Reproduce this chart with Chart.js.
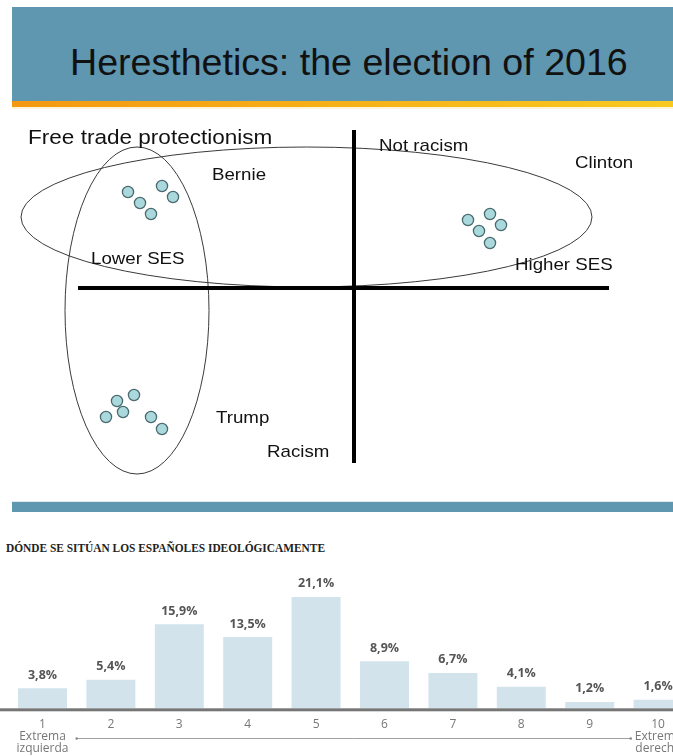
<!DOCTYPE html>
<html>
<head>
<meta charset="utf-8">
<script src="https://cdn.jsdelivr.net/npm/chart.js@4/dist/chart.umd.min.js"></script>
<style>
  html, body { margin: 0; padding: 0; width: 673px; height: 756px; overflow: hidden; background: #fff; }
  .abs { position: absolute; }
  #band { left: 12px; top: 7px; width: 661px; height: 95px; background: #5f96b0; }
  #stripe { left: 12px; top: 101px; width: 661px; height: 6px;
            background: linear-gradient(to right, #f49811, #f6b319 55%, #f8c91f); }
  #stripeGlow { left: 12px; top: 107px; width: 661px; height: 2px; background: #fdf4da; }
  #title { left: 70px; top: 43px; font-family: "Liberation Sans", Arial, sans-serif; font-size: 37.6px;
           line-height: 38px; color: #111; white-space: nowrap; }
  #sepLine { left: 12px; top: 501px; width: 661px; height: 1px; background: #dfe9ee; }
  #sep { left: 12px; top: 502px; width: 661px; height: 10px; background: #5f96b0; }
  #barTitle { left: 6px; top: 542px; font-family: "Liberation Serif", "Times New Roman", serif; font-weight: bold;
              font-size: 12.5px; line-height: 13px; color: #222; white-space: nowrap; transform-origin: 0 0; }
  #diagram { left: 0; top: 106px; }
  #bars { left: 0; top: 560px; }
</style>
</head>
<body>
<div id="band" class="abs"></div>
<div id="title" class="abs">Heresthetics: the election of 2016</div>
<div id="stripe" class="abs"></div>
<div id="stripeGlow" class="abs"></div>
<canvas id="diagram" class="abs" width="673" height="396"></canvas>
<div id="sepLine" class="abs"></div>
<div id="sep" class="abs"></div>
<div id="barTitle" class="abs">DÓNDE SE SITÚAN LOS ESPAÑOLES IDEOLÓGICAMENTE</div>
<canvas id="bars" class="abs" width="693" height="196"></canvas>

<script>
// ---------- Issue space (axes cross at the origin) ----------
const berniePoints  = [{x:-22.6,y:9.6},{x:-19.2,y:10.2},{x:-18.1,y:9.1},{x:-21.4,y:8.5},{x:-20.3,y:7.4}];
const clintonPoints = [{x:11.4,y:6.8},{x:13.6,y:7.4},{x:14.7,y:6.3},{x:12.5,y:5.7},{x:13.6,y:4.5}];
const trumpPoints   = [{x:-22.0,y:-10.7},{x:-23.7,y:-11.3},{x:-23.1,y:-12.4},{x:-24.8,y:-12.9},{x:-20.3,y:-12.9},{x:-19.2,y:-14.1}];
const sesAxis       = [{x:-27.6,y:0},{x:25.5,y:0}];
const racismAxis    = [{x:0,y:15.8},{x:0,y:-17.5}];
// coalitions: centre and half-widths
const coalitions = [
  {cx:-4.75, cy:7.1,   rx:28.55, ry:7.0},
  {cx:-21.7, cy:-2.25, rx:7.2,   ry:16.35}
];
const annotationText = ['Free trade protectionism','Bernie','Lower SES','Not racism','Clinton','Higher SES','Trump','Racism'];
const annotationAt   = [{x:-32.6,y:14.4},{x:-14.2,y:10.8},{x:-26.3,y:2.4},{x:2.5,y:13.7},{x:22.1,y:12.0},{x:16.1,y:1.8},{x:-13.8,y:-13.5},{x:-8.7,y:-16.9}];
const annotationSize = [20.5,17,17,17,17,17,17,17];

// ---------- Ideological self-placement ----------
const scalePoints = ['1','2','3','4','5','6','7','8','9','10'];
const shares      = [3.8, 5.4, 15.9, 13.5, 21.1, 8.9, 6.7, 4.1, 1.2, 1.6];
const scaleEnds   = {0:['Extrema','izquierda'], 9:['Extrema','derecha']};

const dotStyle = { backgroundColor:'#a9d9dc', borderColor:'#4b6a70', borderWidth:1.3, pointRadius:5.6, showLine:false };
const axisStyle = { type:'line', borderColor:'#000', borderWidth:4, pointRadius:0, showLine:true, fill:false, borderCapStyle:'butt' };

const coalitionPlugin = {
  id:'coalitions',
  beforeDatasetsDraw(chart){
    const {ctx, scales:{x, y}} = chart;
    const px = Math.abs(x.getPixelForValue(1) - x.getPixelForValue(0));
    const py = Math.abs(y.getPixelForValue(1) - y.getPixelForValue(0));
    ctx.save();
    ctx.strokeStyle = '#3a3a3a';
    ctx.lineWidth = 1;
    coalitions.forEach(c => {
      ctx.beginPath();
      ctx.ellipse(x.getPixelForValue(c.cx), y.getPixelForValue(c.cy), c.rx*px, c.ry*py, 0, 0, Math.PI*2);
      ctx.stroke();
    });
    ctx.restore();
  },
  afterDatasetsDraw(chart){
    const {ctx, scales:{x, y}} = chart;
    ctx.save();
    ctx.fillStyle = '#111';
    ctx.textBaseline = 'alphabetic';
    ctx.textAlign = 'left';
    annotationText.forEach((t, i) => {
      ctx.save();
      ctx.translate(x.getPixelForValue(annotationAt[i].x), y.getPixelForValue(annotationAt[i].y));
      ctx.scale(1.1, 1);
      ctx.font = annotationSize[i] + 'px "Liberation Sans", Arial, sans-serif';
      ctx.fillText(t, 0, 0);
      ctx.restore();
    });
    ctx.restore();
  }
};

new Chart(document.getElementById('diagram'), {
  type:'scatter',
  data:{ datasets:[
    Object.assign({label:'SES', data:sesAxis}, axisStyle),
    Object.assign({label:'Racism', data:racismAxis}, axisStyle),
    Object.assign({label:'Bernie', data:berniePoints}, dotStyle),
    Object.assign({label:'Clinton', data:clintonPoints}, dotStyle),
    Object.assign({label:'Trump', data:trumpPoints}, dotStyle)
  ]},
  options:{
    responsive:false, animation:false, events:[],
    layout:{padding:0, autoPadding:false},
    plugins:{legend:{display:false}, tooltip:{enabled:false}},
    scales:{
      x:{type:'linear', min:-35.4, max:31.9, display:false},
      y:{type:'linear', min:-21.4, max:18.2, display:false}
    }
  },
  plugins:[coalitionPlugin]
});

// ---------- bar chart ----------
const fmt = v => v.toFixed(1).replace('.', ',') + '%';

const barExtras = {
  id:'barExtras',
  afterDatasetsDraw(chart){
    const {ctx, scales:{x, y}, chartArea} = chart;
    const zero = y.getPixelForValue(0);
    ctx.save();
    // baseline
    ctx.fillStyle = '#767676';
    ctx.fillRect(0, zero, chart.width, 3);
    // value labels
    ctx.fillStyle = '#555';
    ctx.font = 'bold 12.5px "Open Sans", sans-serif';
    ctx.textAlign = 'center';
    ctx.textBaseline = 'alphabetic';
    chart.getDatasetMeta(0).data.forEach((bar, i) => {
      ctx.fillText(fmt(shares[i]), bar.x, bar.y - 9.5);
    });
    // left-right arrow line
    const step = x.getPixelForValue(1) - x.getPixelForValue(0);
    const x0 = x.getPixelForValue(0) + step*0.5;
    const x1 = x.getPixelForValue(scalePoints.length - 1) - step*0.4;
    const ly = chartArea.bottom + 29.7;
    ctx.strokeStyle = '#a0a0a0';
    ctx.lineWidth = 1;
    ctx.beginPath(); ctx.moveTo(x0, ly + 0.5); ctx.lineTo(x1, ly + 0.5); ctx.stroke();
    ctx.fillStyle = '#888';
    [x0, x1].forEach(px => { ctx.beginPath(); ctx.arc(px, ly + 0.5, 1.3, 0, Math.PI*2); ctx.fill(); });
    ctx.restore();
  }
};

new Chart(document.getElementById('bars'), {
  type:'bar',
  data:{ labels:scalePoints, datasets:[{
    data:shares, backgroundColor:'#d2e3ec', borderWidth:0,
    barPercentage:0.716, categoryPercentage:1
  }]},
  options:{
    responsive:false, animation:false, events:[],
    layout:{padding:{left:8.3, right:0.7, top:16.3, bottom:0}, autoPadding:false},
    plugins:{legend:{display:false}, tooltip:{enabled:false}},
    scales:{
      x:{
        grid:{display:false}, border:{display:false},
        ticks:{
          color:'#777', padding:2, autoSkip:false, maxRotation:0,
          font:{family:'"Open Sans", sans-serif', size:12, lineHeight:1.02},
          callback:(v, i) => scaleEnds[i] ? [scalePoints[i]].concat(scaleEnds[i]) : scalePoints[i]
        },
        afterFit:(s) => { s.height = 47.7; }
      },
      y:{display:false, min:0, max:25}
    }
  },
  plugins:[barExtras]
});

// fit the section heading to its column width
(function(){
  const el = document.getElementById('barTitle');
  const w = el.getBoundingClientRect().width;
  el.style.transform = 'scaleX(' + (319 / w) + ')';
})();
</script>
</body>
</html>
